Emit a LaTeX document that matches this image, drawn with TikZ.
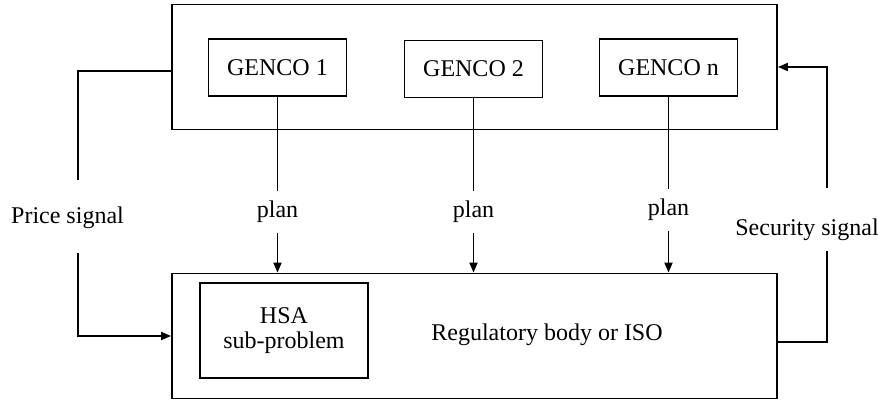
\documentclass[tikz,border=0pt]{standalone}
\usepackage{fontspec}
\setmainfont{Liberation Serif}
\usetikzlibrary{arrows.meta}

\begin{document}
\begin{tikzpicture}[x=0.5pt,y=-0.5pt,line width=0.9pt,font=\fontsize{12}{14}\selectfont,
		box/.style={draw,inner sep=0pt},
		genco/.style={box,minimum width=69pt,minimum height=28.5pt},
		big/.style={box,minimum width=302.5pt,minimum height=62.5pt},
		tag/.style={inner sep=0pt,minimum height=20.5pt},
		sig/.style={-{Triangle[length=5pt,width=4pt]}}]
		\useasboundingbox (0,0) rectangle (878,402);

		\node (top) at (474.5,67) [big] {};
		\node (g1) at (277.5,67.5) [genco] {GENCO 1};
		\node (g2) at (473.5,69) [genco] {GENCO 2};
		\node (gn) at (668.5,67.5) [genco] {GENCO n};

		\node (iso) at (474.5,336) [big] {};
		\node (hsa) at (284,330.5) [box,minimum width=84pt,minimum height=47.5pt,align=center] {HSA\\[-1.5pt]sub-problem};
		\node (reg) at (547,335) {Regulatory body or ISO};

		\node (p1) at (277.5,212) [tag] {plan};
		\node (p2) at (473.5,212) [tag] {plan};
		\node (pn) at (668.5,210) [tag] {plan};

		\draw (g1) -- (p1) (g2) -- (p2) (gn) -- (pn);
		\draw[sig] (p1.south) -- (p1.south |- iso.north);
		\draw[sig] (p2.south) -- (p2.south |- iso.north);
		\draw[sig] (pn.south) -- (pn.south |- iso.north);

		\node (ps) at (67.5,218) {Price signal};
		\node (ss) at (807,230) {Security signal};
		\coordinate (a0) at (78,71);
		\coordinate (a1) at (78,180);
		\coordinate (a2) at (78,253);
		\coordinate (b0) at (827,342);
		\coordinate (b1) at (827,251);
		\coordinate (b2) at (827,188);

		\draw (top.west |- a0) -- (a0) -- (a1);
		\draw[sig] (a2) |- (iso.west);
		\draw (iso.east |- b0) -- (b0) -- (b1);
		\draw[sig] (b2) |- (top.east);
\end{tikzpicture}
\end{document}
